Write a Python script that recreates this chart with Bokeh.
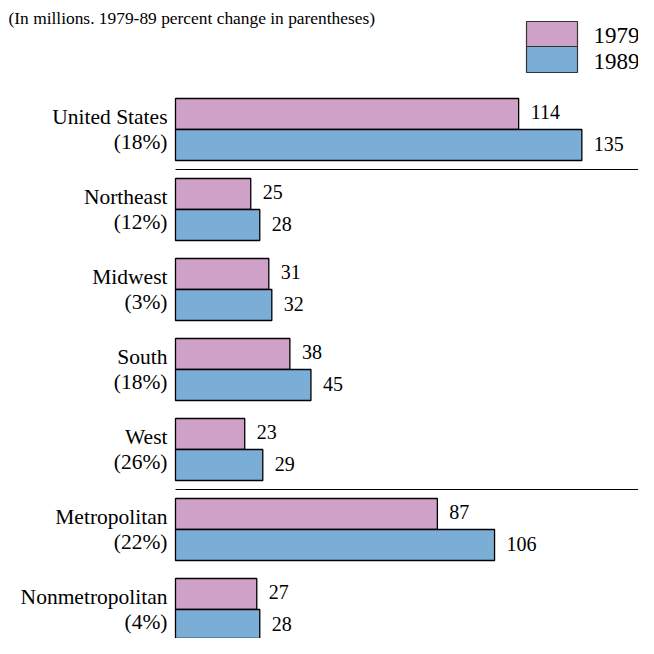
from bokeh.plotting import figure
from bokeh.models import Range1d, ColumnDataSource
from bokeh.core.properties import value
from bokeh.embed import file_html
from bokeh.resources import INLINE

categories = ["United States", "Northeast", "Midwest", "South", "West", "Metropolitan", "Nonmetropolitan"]
pct_labels = ["(18%)", "(12%)", "(3%)", "(18%)", "(26%)", "(22%)", "(4%)"]
v1979 = [114, 25, 31, 38, 23, 87, 27]
v1989 = [135, 28, 32, 45, 29, 106, 28]
series = ["1979", "1989"]
title_text = "(In millions.  1979-89 percent change in parentheses)"
separators_after = [0, 4]

C1979 = "#cfa1c8"
C1989 = "#7aaed6"
FONT = "Liberation Serif"

W, H = 638, 638
S = 3.01          # px per unit
X0 = 175          # frame px of value 0
P = 80.0          # px per group
C0 = 129          # frame px of first group center
BAR_H = 31 / P

def dx(px):
    return (px - X0) / S

def dy(py):
    return (py - C0) / P

p = figure(width=W, height=H, output_backend="svg", toolbar_location=None,
           x_range=Range1d(dx(0), dx(W)), y_range=Range1d(dy(H), dy(0)),
           min_border=0)
p.xaxis.visible = False
p.yaxis.visible = False
p.grid.visible = False
p.outline_line_color = None
p.background_fill_color = "white"
p.border_fill_color = "white"

idx = list(range(len(categories)))
src = ColumnDataSource(dict(
    yc=idx,
    y79=[i - BAR_H / 2 for i in idx],
    y89=[i + BAR_H / 2 for i in idx],
    v79=v1979, v89=v1989,
    t79=[str(v) for v in v1979], t89=[str(v) for v in v1989],
    cat=categories, pct=pct_labels,
))

p.hbar(y="y79", left=0, right="v79", height=BAR_H, source=src,
       fill_color=C1979, line_color="black", line_width=1.3)
p.hbar(y="y89", left=0, right="v89", height=BAR_H, source=src,
       fill_color=C1989, line_color="black", line_width=1.3)

p.text(x="v79", y="y79", text="t79", source=src, x_offset=12, y_offset=-2,
       text_font=value(FONT), text_font_size="20px", text_baseline="middle",
       text_color="black")
p.text(x="v89", y="y89", text="t89", source=src, x_offset=12, y_offset=-1,
       text_font=value(FONT), text_font_size="20px", text_baseline="middle",
       text_color="black")

lx = dx(167)
p.text(x=lx, y="yc", text="cat", source=src, text_align="right", y_offset=-13,
       text_font=value(FONT), text_font_size="21.5px", text_baseline="middle",
       text_color="black")
p.text(x=lx, y="yc", text="pct", source=src, text_align="right", y_offset=12,
       text_font=value(FONT), text_font_size="21.5px", text_baseline="middle",
       text_color="black")

# separator lines
sep_y = [i + 0.5 for i in separators_after]
p.segment(x0=[0] * len(sep_y), x1=[dx(638)] * len(sep_y), y0=sep_y, y1=sep_y,
          line_color="black", line_width=1.2)

# title
p.text(x=[dx(8)], y=[dy(17)], text=[title_text], text_font=value(FONT),
       text_font_size="17.4px", text_baseline="middle", text_color="black")

# legend
p.quad(left=[dx(526)] * 2, right=[dx(577)] * 2,
       top=[dy(21), dy(46)], bottom=[dy(46), dy(72)],
       fill_color=[C1979, C1989], line_color="#333333", line_width=1.2)
p.text(x=[dx(593)] * 2, y=[dy(35), dy(61)], text=series,
       text_font=value(FONT), text_font_size="23px", text_baseline="middle",
       text_color="black")

open("out.html", "w").write(file_html(p, INLINE))
